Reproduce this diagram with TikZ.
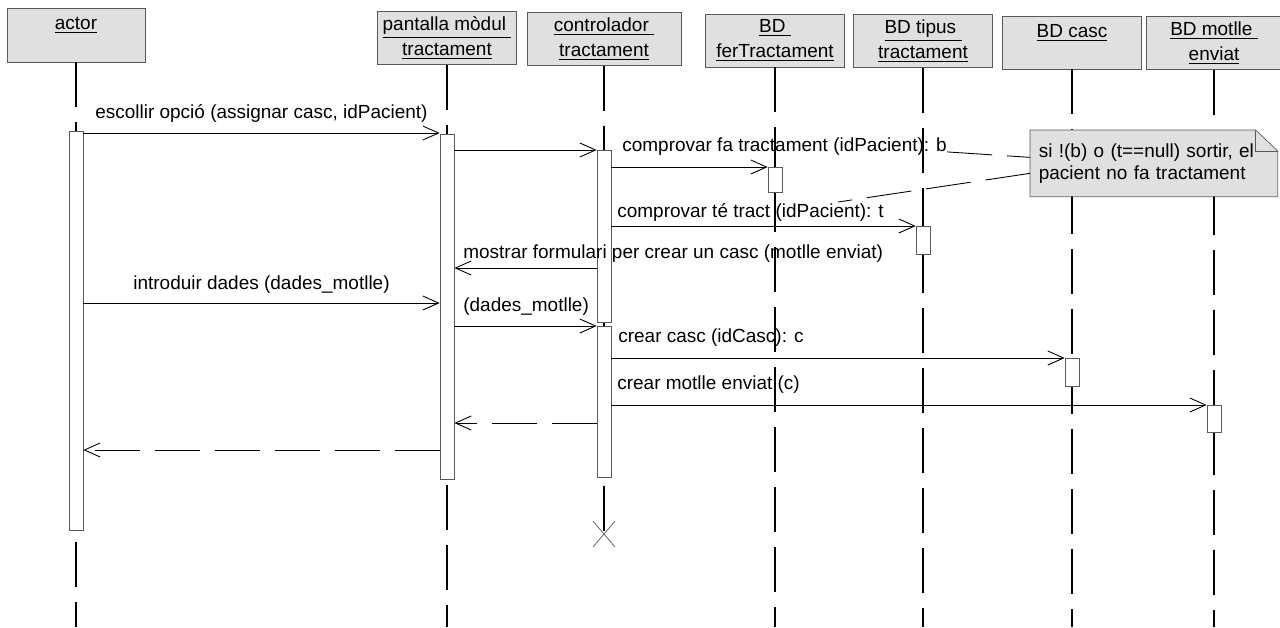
\documentclass[tikz,border=0pt]{standalone}
\usepackage{fontspec}
\setmainfont{Liberation Sans}
\usetikzlibrary{arrows.meta}
\definecolor{boxfill}{gray}{0.88}
\definecolor{boxline}{gray}{0.35}

\begin{document}
\begin{tikzpicture}[x=0.02cm, y=-0.02cm,
		every node/.style={font=\fontsize{10.8}{14.2}\selectfont},
		hdr/.style={draw=boxline, fill=boxfill, line width=0.4pt,
				minimum width=2.78cm, minimum height=1.06cm,
				align=center, inner sep=2pt},
		onel/.style={text height=0.34cm, text depth=0.55cm},
		life/.style={line width=0.7pt, dash pattern=on 0.9cm off 0.3cm},
		bar/.style={draw=boxline, fill=white, line width=0.4pt,
				minimum width=0.28cm, inner sep=0pt, anchor=north},
		msg/.style={-{Straight Barb[length=9pt, width=8pt]}, line width=0.5pt},
		ret/.style={msg, dash pattern=on 0.9cm off 0.3cm},
		lbl/.style={anchor=west, inner sep=0pt},
		notebox/.style={fill=boxfill, anchor=north west, align=left,
				minimum width=4.94cm, minimum height=1.32cm,
				text width=4.6cm, inner xsep=0.16cm,
				font=\fontsize{10.8}{12.8}\selectfont},
		notelink/.style={line width=0.5pt, dash pattern=on 0.9cm off 0.3cm},
	]
	\useasboundingbox (0,0) rectangle (1280,627);

	% ---- Participants ----
	\node[hdr, onel, minimum width=2.76cm, minimum height=1.08cm] (actor) at (76,35) {\underline{actor}};
	\node[hdr] (pant) at (447,38) {\underline{pantalla mòdul\ }\\\underline{tractament}};
	\node[hdr, minimum width=3.08cm] (ctrl) at (604,39) {\underline{controlador\ }\\\underline{tractament}};
	\node[hdr] (bdfer) at (775,40.5) {\underline{BD\ }\\\underline{ferTractament}};
	\node[hdr] (bdtip) at (923,41) {\underline{BD tipus\ }\\\underline{tractament}};
	\node[hdr, onel] (bdcasc) at (1072,42.5) {\underline{BD casc}};
	\node[hdr, minimum width=2.72cm] (bdmot) at (1214,43) {\underline{BD motlle\ }\\\underline{enviat}};

	% ---- Lifelines ----
	\coordinate (bottom) at (0,627);
	\coordinate (ctrlx) at (604,534);
	\draw[life] (actor.south) -- (actor.south |- bottom);
	\draw[life] (pant.south) -- (pant.south |- bottom);
	\draw[life] (ctrl.south) -- (ctrlx);
	\draw[life] (bdfer.south) -- (bdfer.south |- bottom);
	\draw[life] (bdtip.south) -- (bdtip.south |- bottom);
	\draw[life] (bdcasc.south) -- (bdcasc.south |- bottom);
	\draw[life] (bdmot.south) -- (bdmot.south |- bottom);

	% destruction of the controller
	\draw[boxline, line width=0.4pt] ([shift={(-0.22cm,0.26cm)}]ctrlx) -- ([shift={(0.22cm,-0.26cm)}]ctrlx);
	\draw[boxline, line width=0.4pt] ([shift={(-0.22cm,-0.26cm)}]ctrlx) -- ([shift={(0.22cm,0.26cm)}]ctrlx);

	% ---- Note ----
	\node[notebox] (note) at (1030,130) {si !(b) o (t==null) sortir, el\\pacient no fa tractament};
	\fill[white] ([xshift=-0.44cm]note.north east) -- (note.north east) -- ([yshift=-0.42cm]note.north east) -- cycle;
	\draw[boxline, line width=0.4pt] (note.north west) -- ([xshift=-0.44cm]note.north east)
	-- ([yshift=-0.42cm]note.north east) -- (note.south east) -- (note.south west) -- cycle;
	\draw[boxline, line width=0.4pt] ([xshift=-0.44cm]note.north east) |- ([yshift=-0.42cm]note.north east);

	% ---- Activations ----
	\node[bar, minimum height=7.98cm] (actorbar) at (76,131) {};
	\node[bar, minimum height=6.9cm] (pantbar) at (447,134) {};
	\node[bar, minimum height=3.44cm] (ctrlbar) at (604,150) {};
	\node[bar, minimum height=3.02cm] (ctrlbarb) at (604,326) {};
	\node[bar, minimum height=0.5cm] (ferbar) at (775,167) {};
	\node[bar, minimum height=0.56cm] (tipbar) at (923,226) {};
	\node[bar, minimum height=0.56cm] (cascbar) at (1072,358) {};
	\node[bar, minimum height=0.54cm] (motbar) at (1214,405) {};

	% ---- Messages ----
	\coordinate (m1) at (0,133);
	\coordinate (m2) at (0,150);
	\coordinate (m3) at (0,167);
	\coordinate (m4) at (0,226);
	\coordinate (m5) at (0,268);
	\coordinate (m6) at (0,303);
	\coordinate (m7) at (0,326);
	\coordinate (m8) at (0,358);
	\coordinate (m9) at (0,405);
	\coordinate (m10) at (0,423);
	\coordinate (m11) at (0,450);

	\draw[msg] (actorbar.east |- m1) -- (pantbar.west |- m1);
	\draw[msg] (pantbar.east |- m2) -- (ctrlbar.west |- m2);
	\draw[msg] (ctrlbar.east |- m3) -- (ferbar.west |- m3);
	\draw[msg] (ctrlbar.east |- m4) -- (tipbar.west |- m4);
	\draw[msg] (ctrlbar.west |- m5) -- (pantbar.east |- m5);
	\draw[msg] (actorbar.east |- m6) -- (pantbar.west |- m6);
	\draw[msg] (pantbar.east |- m7) -- (ctrlbarb.west |- m7);
	\draw[msg] (ctrlbarb.east |- m8) -- (cascbar.west |- m8);
	\draw[msg] (ctrlbarb.east |- m9) -- (motbar.west |- m9);
	\draw[ret] (ctrlbarb.west |- m10) -- (pantbar.east |- m10);
	\draw[ret] (pantbar.west |- m11) -- (actorbar.east |- m11);

	\node[lbl] (lblesc) at (95,113) {escollir opció (assignar casc, idPacient)};
	\node[lbl] (lblfa) at (622,147) {comprovar fa tractament (idPacient): b};
	\node[lbl] (lblte) at (617,212) {comprovar té tract (idPacient): t};
	\node[lbl] (lblmos) at (463,254) {mostrar formulari per crear un casc (motlle enviat)};
	\node[lbl] (lblint) at (133,285) {introduir dades (dades\_motlle)};
	\node[lbl] (lbldad) at (463,307) {(dades\_motlle)};
	\node[lbl] (lblcasc) at (618,338) {crear casc (idCasc): c};
	\node[lbl] (lblmot) at (617,385) {crear motlle enviat (c)};

	% ---- Note links ----
	\coordinate (tenote) at (838,202);
	\draw[notelink] (lblfa.base east) -- ([yshift=0.12cm]note.west);
	\draw[notelink] ([yshift=-0.2cm]note.west) -- (tenote);

\end{tikzpicture}
\end{document}
